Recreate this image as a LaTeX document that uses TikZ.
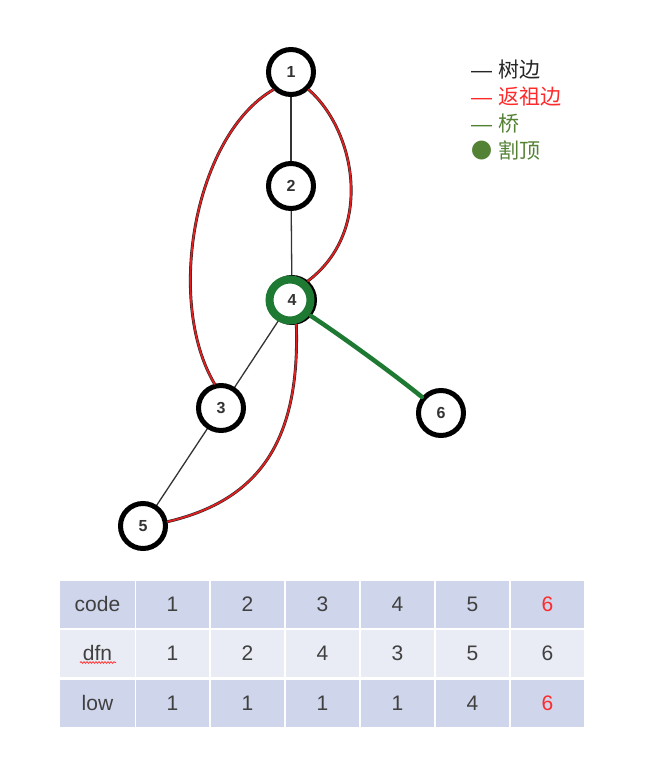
\documentclass[tikz,border=0pt]{standalone}
\usepackage{fontspec}
\setmainfont{Liberation Sans}
\newfontfamily\cjk{Noto Sans CJK SC}
\newfontfamily\dashfont{Liberation Sans}
\usetikzlibrary{decorations.pathmorphing}
\definecolor{tblA}{HTML}{CFD5EA}
\definecolor{tblB}{HTML}{E9EBF5}
\definecolor{tbltxt}{HTML}{404040}
\definecolor{legred}{HTML}{FF2A2A}
\definecolor{leggreen}{HTML}{548235}
\definecolor{ringgreen}{HTML}{1E7A32}
\definecolor{backred}{HTML}{E02020}
\tikzset{
  vtx/.style={circle, draw=black, line width=5pt, fill=white, minimum size=45pt, inner sep=0pt, font=\fontsize{16}{18}\selectfont\bfseries, text=black!80},
  treeedge/.style={draw=black!80, line width=1.3pt},
  backunder/.style={draw=black!85, line width=2.9pt, line cap=round},
  backover/.style={draw=backred, line width=1.8pt, line cap=round},
  bridgeedge/.style={draw=ringgreen, line width=4.5pt, line cap=round},
  legend/.style={anchor=west, inner sep=0pt, font=\cjk\fontsize{21}{24}\selectfont},
  cellA/.style={fill=tblA, minimum width=73pt, minimum height=47pt, inner sep=0pt, text=tbltxt, font=\fontsize{21}{24}\selectfont},
  cellB/.style={cellA, fill=tblB},
  hdrA/.style={cellA, minimum width=75pt},
  hdrB/.style={cellB, minimum width=75pt}
}
\begin{document}
\begin{tikzpicture}[x=1pt, y=-1pt]
\useasboundingbox (0,0) rectangle (649,779);
\fill[white] (0,0) rectangle (649,779);
% nodes (positions)
\coordinate (p1) at (291,72);
\coordinate (p2) at (291,186);
\coordinate (p4) at (292,300);
\coordinate (p3) at (221,408);
\coordinate (p5) at (143,526);
\coordinate (p6) at (441,413);
% tree edges
\draw[treeedge] (p1) -- (p2);
\draw[treeedge] (p2) -- (p4);
\draw[treeedge] (p4) -- (p3);
\draw[treeedge] (p3) -- (p5);
% nodes
\node[vtx] (n1) at (p1) {1};
\node[vtx] (n2) at (p2) {2};
\node[vtx] (n3) at (p3) {3};
\node[vtx] (n5) at (p5) {5};
\node[vtx] (n6) at (p6) {6};
\node[vtx] (n4) at (p4) {};
% back edges
\draw[backunder] (n1.225) .. controls (195,135) and (165,300) .. (n3.105);
\draw[backover] (n1.225) .. controls (195,135) and (165,300) .. (n3.105);
\draw[backunder] (n1.315) .. controls (355,130) and (375,230) .. (n4.50);
\draw[backover] (n1.315) .. controls (355,130) and (375,230) .. (n4.50);
\draw[backunder] (n4.-80) .. controls (300,440) and (260,500) .. (n5.10);
\draw[backover] (n4.-80) .. controls (300,440) and (260,500) .. (n5.10);
% bridge
\draw[bridgeedge] (n4.-40) .. controls (340,335) and (395,375) .. (n6.140);
% cut vertex ring
\draw[ringgreen, line width=8pt] (290,300) circle (20.5);
\node[font=\fontsize{16}{18}\selectfont\bfseries, text=black!80] (t4) at (p4) {4};
% legend
\node[legend, text=black!85] (l1) at (471,70) {{\dashfont —}\hspace{2pt} 树边};
\node[legend, text=legred] (l2) at (471,97) {{\dashfont —}\hspace{2pt} 返祖边};
\node[legend, text=leggreen] (l3) at (471,124) {{\dashfont —}\hspace{2pt} 桥};
\node[legend, text=leggreen] (l4) at (471,150) {●\hspace{2pt} 割顶};
% table
\node[hdrA] (h1) at (97.5,604) {code};
\node[hdrB] (h2) at (97.5,653) {dfn};
\node[hdrA] (h3) at (97.5,703) {low};
\foreach \i/\a/\b/\c in {1/1/1/1, 2/2/2/1, 3/3/4/1, 4/4/3/1, 5/5/5/4} {
  \node[cellA] (a\i) at (97.5+75*\i,604) {\a};
  \node[cellB] (b\i) at (97.5+75*\i,653) {\b};
  \node[cellA] (c\i) at (97.5+75*\i,703) {\c};
}
\node[cellA, text=legred] (a6) at (547.5,604) {6};
\node[cellB] (b6) at (547.5,653) {6};
\node[cellA, text=legred] (c6) at (547.5,703) {6};
\draw[red!80, line width=0.8pt, decorate, decoration={snake, amplitude=0.8pt, segment length=3pt}] (80,662.5) -- (116,662.5);
\end{tikzpicture}
\end{document}
